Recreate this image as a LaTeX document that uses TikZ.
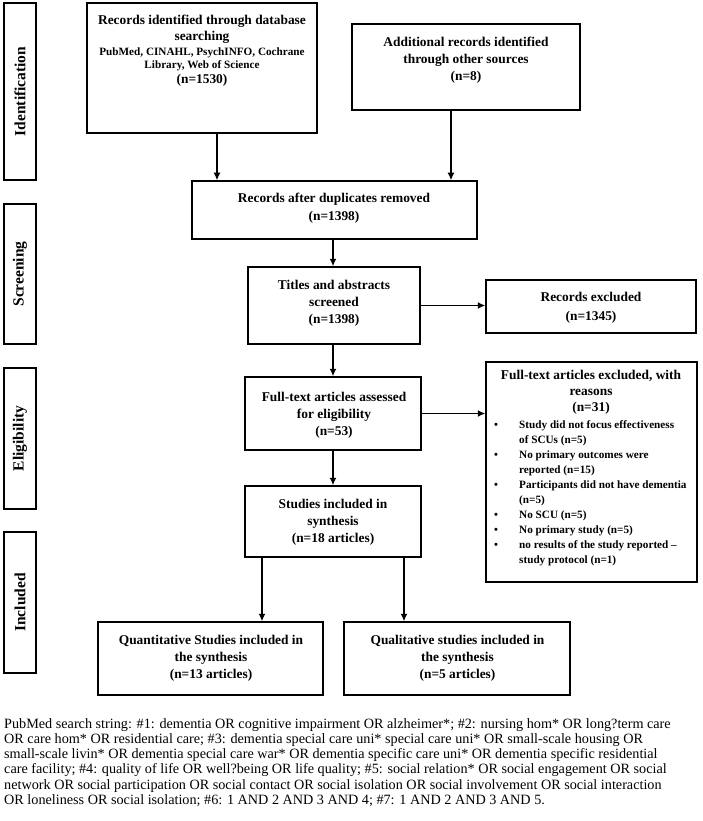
\documentclass[tikz,border=0pt]{standalone}
\usepackage{fontspec}
\setmainfont{Liberation Serif}
\usetikzlibrary{arrows.meta}
\begin{document}
\begin{tikzpicture}[x=1pt,y=-1pt,
  box/.style={draw, line width=1.5pt, inner sep=0pt},
  side/.style={draw, line width=1.5pt, inner sep=0pt, rotate=90, minimum height=32pt,
    font=\fontsize{15.5}{17}\selectfont\bfseries},
  btxt/.style={align=center, inner sep=0pt, font=\fontsize{13.4}{17}\selectfont\bfseries},
  arr/.style={line width=1.4pt, -{Latex[length=7.5pt,width=7pt]}},
]
\useasboundingbox (0,0) rectangle (702,821);

% phase labels
\node[side, minimum width=177pt] (sid) at (20,91.5) {Identification};
\node[side, minimum width=140pt] (sscr) at (20,274) {Screening};
\node[side, minimum width=141pt] (selg) at (20,438.5) {Eligibility};
\node[side, minimum width=141pt] (sinc) at (20,602.5) {Included};

% boxes
\node[box, minimum width=230pt, minimum height=130pt] (rec) at (202,68) {};
\node[box, minimum width=228pt, minimum height=86pt] (add) at (466,67) {};
\node[box, minimum width=285pt, minimum height=58pt] (dup) at (334.5,210) {};
\node[box, minimum width=172pt, minimum height=77pt] (tit) at (334,305.5) {};
\node[box, minimum width=210pt, minimum height=53pt] (rexc) at (591,306.5) {};
\node[box, minimum width=176pt, minimum height=73pt] (full) at (333,413.5) {};
\node[box, minimum width=211pt, minimum height=220pt] (fexc) at (591.5,472) {};
\node[box, minimum width=176pt, minimum height=71pt] (stud) at (333,521.5) {};
\node[box, minimum width=225pt, minimum height=73pt] (quant) at (210.5,658.5) {};
\node[box, minimum width=226pt, minimum height=73pt] (qual) at (457,658.5) {};

% texts
\node[btxt, font=\fontsize{13.4}{16}\selectfont\bfseries] (rect1) at (202,29) {Records identified through database\\searching};
\node[btxt, font=\fontsize{11.2}{13}\selectfont\bfseries] (rect2) at (202,59.5) {PubMed, CINAHL, PsychINFO, Cochrane\\Library, Web of Science};
\node[btxt] (rect3) at (202,80) {(n=1530)};
\node[btxt] (addt) at (466,60) {Additional records identified\\through other sources\\(n=8)};
\node[btxt, font=\fontsize{13.4}{18}\selectfont\bfseries] (dupt) at (334,208) {Records after duplicates removed\\(n=1398)};
\node[btxt] (titt) at (334,303) {Titles and abstracts\\screened\\(n=1398)};
\node[btxt, font=\fontsize{13.4}{19}\selectfont\bfseries] (rexct) at (591,307.5) {Records excluded\\(n=1345)};
\node[btxt] (fullt) at (334,415) {Full-text articles assessed\\for eligibility\\(n=53)};
\node[btxt, font=\fontsize{13.4}{16}\selectfont\bfseries] (fexct) at (591,392) {Full-text articles excluded, with\\reasons\\(n=31)};
\node[anchor=north west, inner sep=0pt, font=\fontsize{11.2}{15}\selectfont\bfseries] (fexcl) at (494,417.5) {%
\begin{tabular}{@{}p{25pt}@{}l@{}}
\textbullet & Study did not focus effectiveness\\
 & of SCUs (n=5)\\
\textbullet & No primary outcomes were\\
 & reported (n=15)\\
\textbullet & Participants did not have dementia\\
 & (n=5)\\
\textbullet & No SCU (n=5)\\
\textbullet & No primary study (n=5)\\
\textbullet & no results of the study reported \textendash\\
 & study protocol (n=1)
\end{tabular}};
\node[btxt] (studt) at (333,522) {Studies included in\\synthesis\\(n=18 articles)};
\node[btxt] (quantt) at (211,658) {Quantitative Studies included in\\the synthesis\\(n=13 articles)};
\node[btxt] (qualt) at (457.5,658) {Qualitative studies included in\\the synthesis\\(n=5 articles)};

% connectors
\coordinate (c1) at (217,0);
\coordinate (c2) at (451,0);
\coordinate (c3) at (333,0);
\coordinate (c4) at (262,0);
\coordinate (c5) at (404,0);
\draw[arr] (rec.south -| c1) -- (dup.north -| c1);
\draw[arr] (add.south -| c2) -- (dup.north -| c2);
\draw[arr] (dup.south -| c3) -- (tit.north -| c3);
\draw[arr] (tit.south -| c3) -- (full.north -| c3);
\draw[arr] (full.south -| c3) -- (stud.north -| c3);
\draw[arr] (tit.east) -- (tit.east -| rexc.west);
\draw[arr] (full.east) -- (full.east -| fexc.west);
\draw[arr] (stud.south -| c4) -- (quant.north -| c4);
\draw[arr] (stud.south -| c5) -- (qual.north -| c5);

% footnote
\node[anchor=north west, align=left, inner sep=0pt, font=\fontsize{14.2}{15.3}\selectfont] (note) at (4,718) {%
PubMed search string: \#1: dementia OR cognitive impairment OR alzheimer*; \#2: nursing hom* OR long?term care\\
OR care hom* OR residential care; \#3: dementia special care uni* special care uni* OR small-scale housing OR\\
small-scale livin* OR dementia special care war* OR dementia specific care uni* OR dementia specific residential\\
care facility; \#4: quality of life OR well?being OR life quality; \#5: social relation* OR social engagement OR social\\
network OR social participation OR social contact OR social isolation OR social involvement OR social interaction\\
OR loneliness OR social isolation; \#6: 1 AND 2 AND 3 AND 4; \#7: 1 AND 2 AND 3 AND 5.};
\end{tikzpicture}
\end{document}
